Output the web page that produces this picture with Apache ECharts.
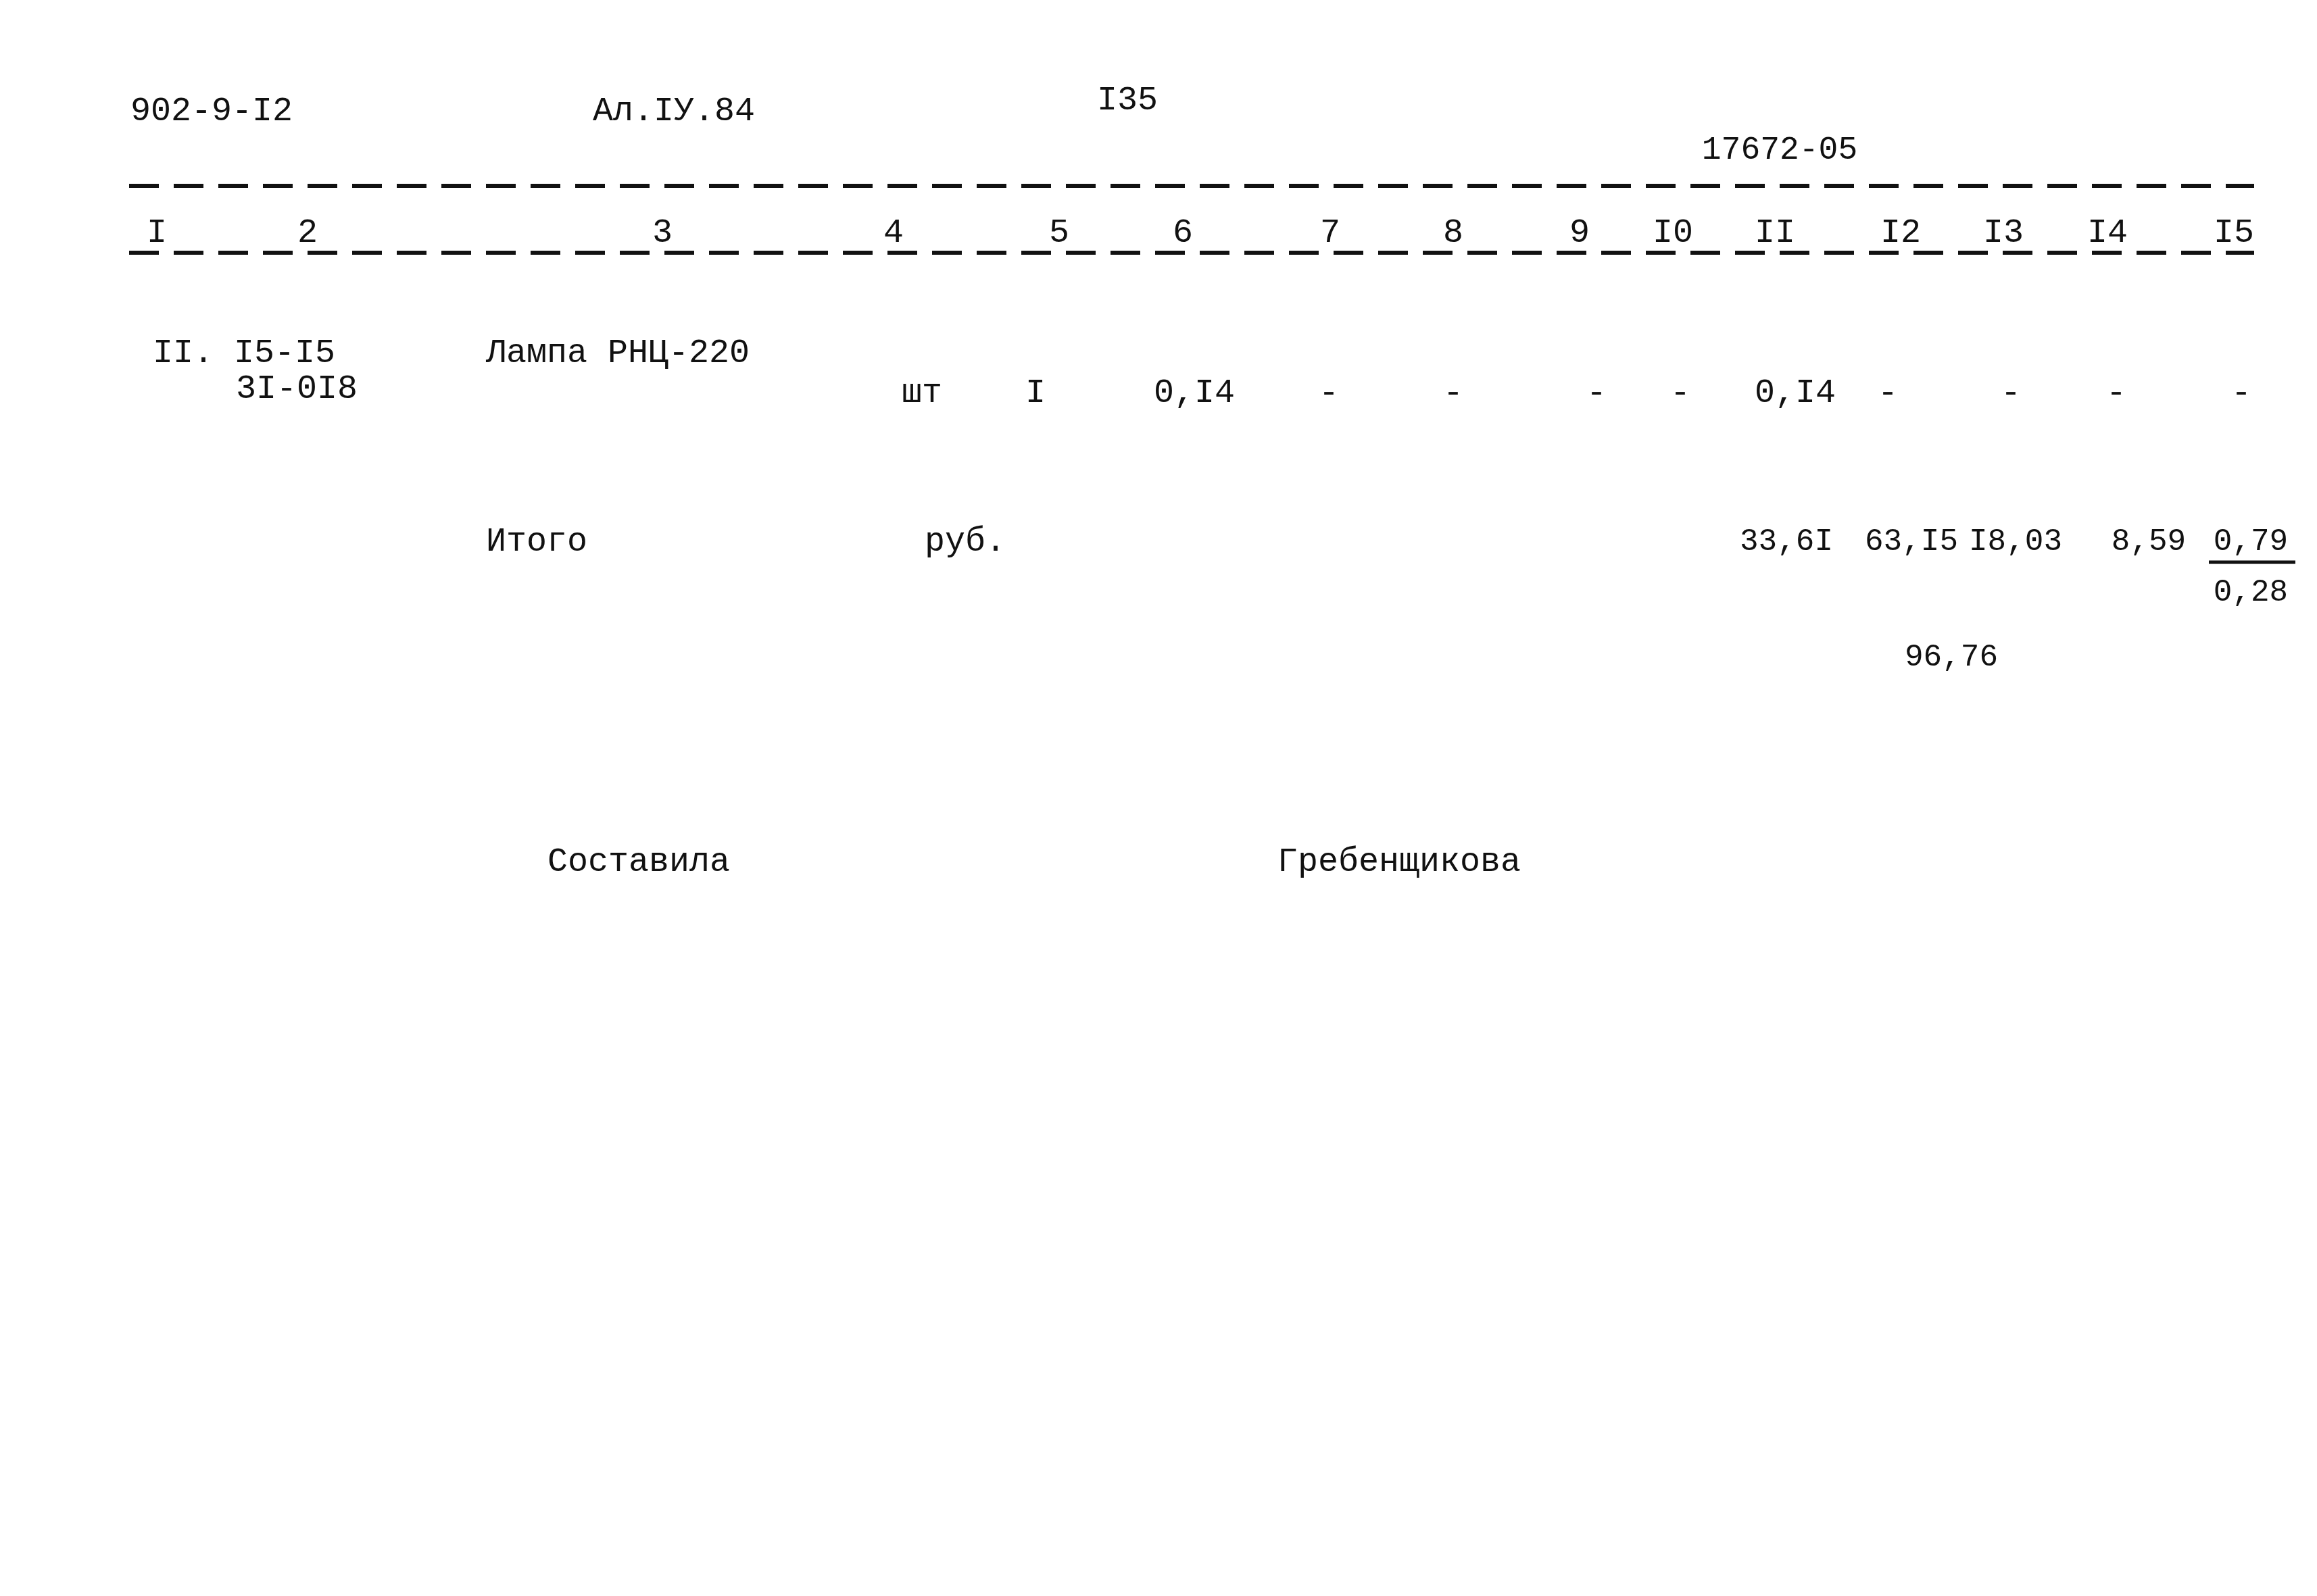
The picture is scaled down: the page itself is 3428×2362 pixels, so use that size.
<!DOCTYPE html>
<html><head><meta charset="utf-8">
<script src="https://cdn.jsdelivr.net/npm/echarts@6/dist/echarts.min.js"></script>
<style>html,body{margin:0;background:#fff}#c{width:3428px;height:2362px}</style>
</head><body><div id="c"></div>
<script>
const headerTexts = ['902-9-I2', 'Ал.IУ.84', 'I35', '17672-05'];
const columnNumbers = ['I','2','3','4','5','6','7','8','9','I0','II','I2','I3','I4','I5'];
const rowCode = ['II. I5-I5', '3I-0I8'];
const rowName = 'Лампа РНЦ-220';
const rowValues = ['шт','I','0,I4','-','-','-','-','0,I4','-','-','-','-'];
const totalLabel = ['Итого', 'руб.'];
const totalValues = ['33,6I','63,I5','I8,03','8,59','0,79'];
const totalExtra = ['0,28', '96,76'];
const signature = ['Составила', 'Гребенщикова'];

const colX = [232,455,980,1322,1567,1750,1968,2150,2337,2475,2626,2812,2964,3118,3335];
const rowX = [1364,1532,1767,1966,2150,2362,2486,2656,2793,2975,3131,3316];
const totX = [2643,2828,2982,3179,3330];
const F = '"Liberation Mono", "DejaVu Sans Mono", monospace';
const fs = 50;
const g = [];
function t(x,y,s,align,size){g.push({type:'text',x:x,y:y,style:{text:s,font:(size||fs)+'px '+F,fill:'#111',textAlign:align||'center',textVerticalAlign:'middle'}});}
function dash(y){g.push({type:'line',shape:{x1:191,y1:y,x2:3335,y2:y},style:{stroke:'#111',lineWidth:6,lineDash:[44,22]}});}
t(193,165,headerTexts[0],'left');
t(877,165,headerTexts[1],'left');
t(1668,149,headerTexts[2]);
t(2633,222,headerTexts[3],'center',48);
dash(275);
columnNumbers.forEach((c,i)=>t(colX[i],345,c, i===14?'right':'center'));
dash(374);
t(226,523,rowCode[0],'left');
t(349,576,rowCode[1],'left');
t(719,523,rowName,'left');
rowValues.forEach((v,i)=>t(rowX[i],582,v));
t(719,802,totalLabel[0],'left');
t(1368,802,totalLabel[1],'left');
totalValues.forEach((v,i)=>t(totX[i],802,v,'center',46));
g.push({type:'line',shape:{x1:3268,y1:832,x2:3396,y2:832},style:{stroke:'#111',lineWidth:5}});
t(3330,877,totalExtra[0],'center',46);
t(2887,973,totalExtra[1],'center',46);
t(945,1276,signature[0]);
t(2070,1276,signature[1]);
const chart = echarts.init(document.getElementById('c'));
chart.setOption({backgroundColor:'#fff',graphic:g});
</script></body></html>
